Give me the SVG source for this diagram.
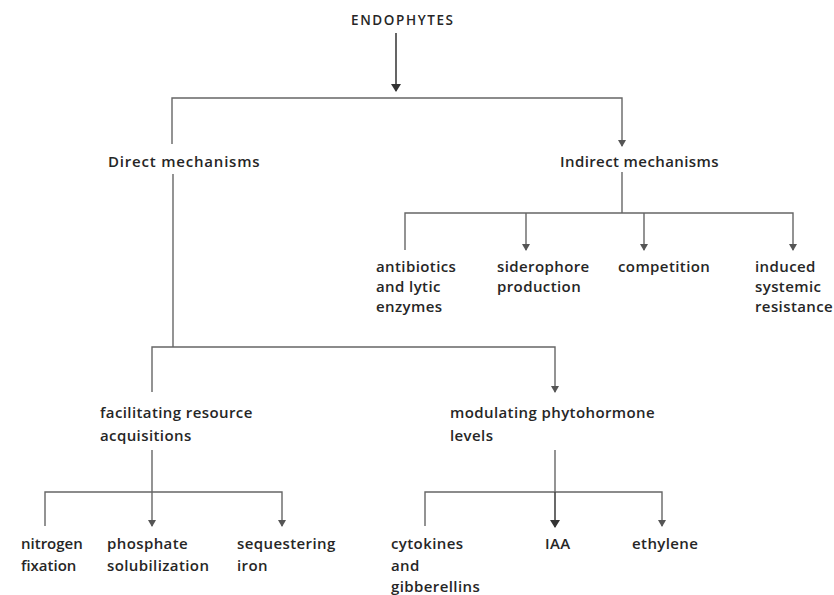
<svg xmlns="http://www.w3.org/2000/svg" width="834" height="595" viewBox="0 0 834 595">
<defs>
<marker id="ah" markerWidth="7" markerHeight="8" refX="6" refY="4" orient="auto" markerUnits="userSpaceOnUse" viewBox="0 0 7 8">
<path d="M0,0 L7,4 L0,8 Z" fill="#555"/>
</marker>
<marker id="ahb" markerWidth="8" markerHeight="10" refX="7" refY="5" orient="auto" markerUnits="userSpaceOnUse" viewBox="0 0 8 10">
<path d="M0,0 L8,5 L0,10 Z" fill="#333"/>
</marker>
<style>
text{font-family:"Open Sans","Noto Sans",sans-serif;font-size:15px;font-weight:600;letter-spacing:0.4px;fill:#262626;}
.c{fill:none;stroke:#666;stroke-width:1.4;}
.a{marker-end:url(#ah);}
</style>
</defs>
<rect width="834" height="595" fill="#fff"/>
<g id="connectors">
<line class="c" x1="396" y1="33" x2="396" y2="91" style="marker-end:url(#ahb);stroke:#555;stroke-width:1.8"/>
<polyline class="c a" points="172,144 172,98 622,98 622,146"/>
<line class="c" x1="173" y1="174" x2="173" y2="347"/>
<polyline class="c a" points="152,392 152,347 555,347 555,392"/>
<line class="c" x1="622" y1="172" x2="622" y2="213"/>
<polyline class="c a" points="405,250 405,213 793,213 793,250"/>
<line class="c a" x1="526" y1="213" x2="526" y2="250"/>
<line class="c a" x1="644" y1="213" x2="644" y2="250"/>
<line class="c" x1="152" y1="450" x2="152" y2="492"/>
<polyline class="c a" points="45,526 45,492 282,492 282,526"/>
<line class="c a" x1="152" y1="492" x2="152" y2="526"/>
<line class="c" x1="555" y1="450" x2="555" y2="492"/>
<polyline class="c a" points="425,526 425,492 662,492 662,526"/>
<line class="c" x1="555" y1="492" x2="555" y2="527" style="marker-end:url(#ahb);stroke:#444;stroke-width:1.6"/>
</g>
<g id="endophytes"><text x="351" y="25" style="font-size:13.5px;letter-spacing:1.6px">ENDOPHYTES</text></g>
<g id="direct"><text x="108" y="167" style="letter-spacing:0.8px">Direct mechanisms</text></g>
<g id="indirect"><text x="560" y="167">Indirect mechanisms</text></g>
<g id="antibiotics"><text x="376" y="272">antibiotics</text><text x="376" y="292">and lytic</text><text x="376" y="312">enzymes</text></g>
<g id="siderophore"><text x="497" y="272">siderophore</text><text x="497" y="292">production</text></g>
<g id="competition"><text x="618" y="272">competition</text></g>
<g id="isr"><text x="755" y="272">induced</text><text x="755" y="292">systemic</text><text x="755" y="312">resistance</text></g>
<g id="facilitating"><text x="100" y="418">facilitating resource</text><text x="100" y="441">acquisitions</text></g>
<g id="modulating"><text x="450" y="418">modulating phytohormone</text><text x="450" y="441">levels</text></g>
<g id="nitrogen"><text x="21" y="549" style="letter-spacing:0px">nitrogen</text><text x="21" y="571" style="letter-spacing:0px">fixation</text></g>
<g id="phosphate"><text x="107" y="549">phosphate</text><text x="107" y="571">solubilization</text></g>
<g id="iron"><text x="237" y="549">sequestering</text><text x="237" y="571">iron</text></g>
<g id="cytokines"><text x="391" y="549">cytokines</text><text x="391" y="571">and</text><text x="391" y="592">gibberellins</text></g>
<g id="iaa"><text x="545" y="549">IAA</text></g>
<g id="ethylene"><text x="632" y="549">ethylene</text></g>
</svg>
